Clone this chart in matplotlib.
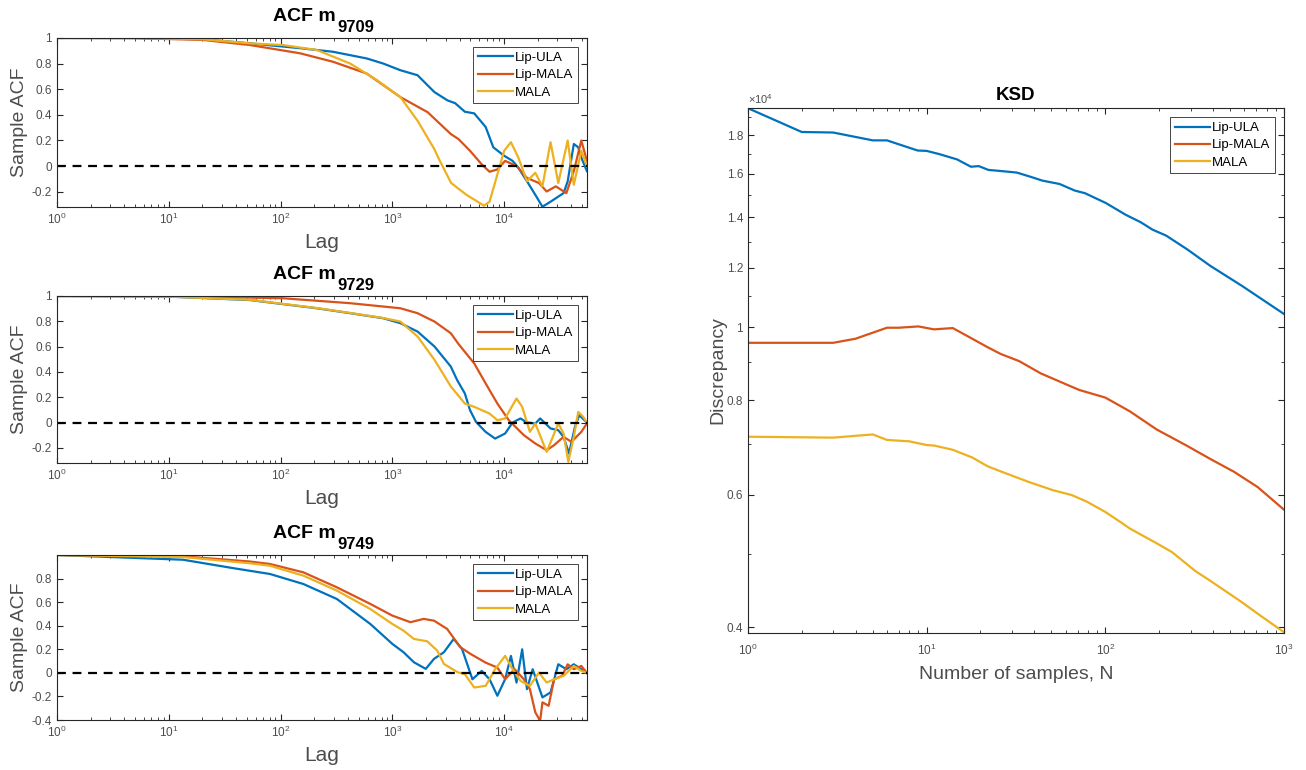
import matplotlib
matplotlib.use("Agg")
import matplotlib.pyplot as plt
from matplotlib.ticker import FixedLocator, NullFormatter, LogLocator

plt.rcParams['font.family'] = ['Liberation Sans', 'DejaVu Sans']
plt.rcParams['mathtext.fontset'] = 'custom'
plt.rcParams['mathtext.rm'] = 'Liberation Sans'
plt.rcParams['mathtext.bf'] = 'Liberation Sans:bold'

# MATLAB default colours
C_ULA = '#0072BD'
C_LMALA = '#D95319'
C_MALA = '#EDB120'
labels = ['Lip-ULA', 'Lip-MALA', 'MALA']

# --- ACF m_9709 ---
m9709_ula_lag = [1, 5, 20, 53, 150, 295, 590, 830, 1180, 1680, 2380, 3120, 3640, 4450, 5400, 6830, 8000, 10000,
                 11900, 13400, 16000, 19000, 22000, 26000, 30500, 34000, 37000, 42000, 46000, 49000, 55000]
m9709_ula = [1, 1, 0.99, 0.958, 0.92, 0.892, 0.84, 0.80, 0.748, 0.709, 0.577, 0.512, 0.491, 0.424, 0.411, 0.305,
             0.146, 0.080, 0.040, -0.013, -0.119, -0.225, -0.318, -0.279, -0.239, -0.212, -0.12, 0.172, 0.146,
             0.066, -0.04]
m9709_lmala_lag = [1, 5, 20, 53, 150, 295, 590, 1180, 2070, 3330, 3910, 4950, 6300, 7400, 8700, 10200, 12900,
                   16000, 20500, 24000, 29000, 36000, 42000, 49000, 55000]
m9709_lmala = [1, 0.998, 0.985, 0.945, 0.88, 0.814, 0.722, 0.538, 0.42, 0.25, 0.21, 0.119, 0.013, -0.045,
               -0.027, 0.04, 0, -0.093, -0.133, -0.199, -0.159, -0.212, -0.04, 0.199, 0.04]
m9709_mala_lag = [1, 5, 20, 53, 105, 211, 420, 730, 1180, 1680, 2380, 2660, 3360, 4600, 5800, 6600, 7400, 8700,
                  10000, 11500, 13400, 16000, 19000, 22000, 26000, 30500, 37000, 42000, 49000, 55000]
m9709_mala = [1, 1, 0.99, 0.958, 0.945, 0.906, 0.80, 0.67, 0.538, 0.354, 0.13, 0.04, -0.133, -0.225, -0.279,
              -0.31, -0.279, -0.066, 0.119, 0.186, 0.066, -0.119, -0.053, -0.159, 0.186, -0.133, 0.199, -0.146,
              0.119, 0]

# --- ACF m_9729 ---
m9729_ula_lag = [1, 10, 53, 211, 420, 830, 1180, 1680, 2380, 3330, 3800, 4450, 4950, 5600, 6830, 8300, 10200,
                 11900, 14000, 16000, 19000, 21000, 26000, 30500, 34000, 38000, 43000, 47000, 55000]
m9729_ula = [1, 0.995, 0.968, 0.903, 0.864, 0.824, 0.785, 0.719, 0.601, 0.443, 0.335, 0.23, 0.098, 0.005,
             -0.074, -0.127, -0.087, 0, 0.032, 0, -0.008, 0.032, -0.047, -0.061, -0.113, -0.245, -0.034, 0.058, 0]
m9729_lmala_lag = [1, 10, 105, 420, 1180, 1680, 2380, 3330, 3910, 5400, 6830, 8700, 11000, 15000, 19000,
                   24000, 28000, 34000, 40000, 49000, 55000]
m9729_lmala = [1, 1, 0.982, 0.943, 0.903, 0.864, 0.798, 0.706, 0.62, 0.467, 0.309, 0.15, 0.018, -0.1, -0.166,
               -0.219, -0.179, -0.113, -0.153, -0.074, -0.008]
m9729_mala_lag = [1, 10, 53, 211, 420, 830, 1180, 1680, 2380, 3330, 4450, 5400, 6300, 7400, 8700, 10200, 12900,
                  14500, 17000, 19000, 24000, 30500, 34000, 37500, 42000, 46000, 51000, 55000]
m9729_mala = [1, 0.995, 0.97, 0.905, 0.866, 0.826, 0.798, 0.68, 0.496, 0.286, 0.15, 0.124, 0.098, 0.071,
              0.018, 0.032, 0.19, 0.124, -0.074, -0.008, -0.232, -0.008, -0.087, -0.311, -0.113, 0.084, 0.045, 0]

# --- ACF m_9749 ---
m9749_ula_lag = [1, 13.4, 37.5, 80.5, 160, 319, 635, 1000, 1260, 1560, 1990, 2360, 2890, 3540, 4200, 5200,
                 6300, 7400, 8700, 10200, 11500, 12900, 14500, 16000, 18000, 22000, 26000, 30500, 36000, 42000,
                 49000, 55000]
m9749_ula = [1, 0.96, 0.889, 0.839, 0.754, 0.627, 0.415, 0.246, 0.175, 0.09, 0.034, 0.119, 0.175, 0.288,
             0.203, -0.054, 0.017, -0.054, -0.194, -0.054, 0.144, -0.082, 0.2, -0.138, 0.031, -0.208, -0.166,
             0.073, 0.031, 0.073, 0.031, 0]
m9749_lmala_lag = [1, 13.4, 53, 80.5, 160, 319, 635, 1000, 1450, 1910, 2360, 3090, 4050, 5000, 6830, 8700,
                   10200, 12400, 15000, 17000, 19000, 21000, 22000, 25000, 28000, 33000, 37000, 42000, 49000,
                   55000]
m9749_lmala = [1, 0.989, 0.945, 0.924, 0.853, 0.726, 0.585, 0.486, 0.43, 0.458, 0.443, 0.373, 0.218, 0.161,
               0.087, 0.045, -0.054, 0.031, -0.054, -0.138, -0.335, -0.406, -0.25, -0.279, -0.054, -0.025,
               0.073, 0.031, 0.059, 0]
m9749_mala_lag = [1, 13.4, 53, 80.5, 160, 319, 635, 1000, 1260, 1560, 2050, 2520, 2890, 3820, 4450, 5400,
                  6830, 8300, 10200, 11900, 14000, 17000, 20500, 24000, 28000, 34000, 42000, 49000, 55000]
m9749_mala = [1, 0.983, 0.93, 0.909, 0.825, 0.698, 0.542, 0.415, 0.358, 0.288, 0.268, 0.189, 0.076, 0.006,
              -0.011, -0.124, -0.11, 0.031, 0.144, 0.031, -0.068, -0.11, 0.003, -0.082, -0.054, -0.025, 0.059,
              0.017, 0]

# --- KSD (values in units of 1e4) ---
ksd_ula_n = [1, 2, 3, 5, 6, 8.9, 10, 11.8, 14.8, 17.7, 19.6, 22.2, 25.1, 32, 39, 44.5, 55.5, 67.6, 77, 101,
             130, 158, 184, 219, 288, 387, 580, 1000]
ksd_ula = [1.954, 1.817, 1.814, 1.771, 1.771, 1.717, 1.715, 1.698, 1.671, 1.634, 1.637, 1.618, 1.614, 1.605,
           1.582, 1.566, 1.550, 1.519, 1.507, 1.462, 1.411, 1.379, 1.348, 1.324, 1.269, 1.207, 1.136, 1.042]
ksd_lmala_n = [1, 3, 4, 6, 7, 9, 11, 14, 18, 22, 26, 33, 43.5, 58.5, 71.5, 100, 137, 194, 288, 387, 527,
               712, 1000]
ksd_lmala = [0.954, 0.954, 0.966, 0.999, 0.999, 1.003, 0.994, 0.998, 0.966, 0.941, 0.922, 0.902, 0.869,
             0.843, 0.826, 0.807, 0.774, 0.732, 0.696, 0.669, 0.643, 0.614, 0.573]
ksd_mala_n = [1, 3, 5, 6, 8, 10, 11, 14, 18, 22, 26, 37, 51, 65, 79, 100, 124, 137, 158, 194, 237, 319, 387,
              450, 580, 712, 1000]
ksd_mala = [0.716, 0.714, 0.721, 0.709, 0.706, 0.698, 0.697, 0.688, 0.672, 0.654, 0.644, 0.624, 0.608,
            0.599, 0.587, 0.569, 0.550, 0.541, 0.531, 0.517, 0.503, 0.475, 0.461, 0.450, 0.432, 0.417, 0.394]

AX_COL = '0.15'
TICK_COL = '0.3'


def style_axes(ax):
    for s in ax.spines.values():
        s.set_color(AX_COL)
        s.set_linewidth(0.8)
    ax.tick_params(which='both', direction='in', top=True, right=True, colors=AX_COL,
                   labelcolor=TICK_COL, labelsize=8.5)
    ax.tick_params(which='major', length=4)
    ax.tick_params(which='minor', length=2.3)


def add_legend(ax):
    leg = ax.legend(labels, loc='upper right', fontsize=9.5, handlelength=2.7, handletextpad=0.1,
                    labelspacing=0.38, borderpad=0.35, fancybox=False, framealpha=1,
                    edgecolor=AX_COL, borderaxespad=0.7)
    leg.get_frame().set_linewidth(0.6)


def acf_title(ax, num):
    ax.annotate('ACF m', xy=(0.527, 1), xycoords='axes fraction', xytext=(0, 12),
                textcoords='offset points', ha='right', va='baseline', fontsize=14, fontweight='bold')
    ax.annotate(num, xy=(0.529, 1), xycoords='axes fraction', xytext=(0, 4.5),
                textcoords='offset points', ha='left', va='baseline', fontsize=12, fontweight='bold')


fig = plt.figure(figsize=(13.06, 7.7), dpi=100)

acf_sets = [
    ('9709', (m9709_ula_lag, m9709_ula), (m9709_lmala_lag, m9709_lmala), (m9709_mala_lag, m9709_mala),
     (-0.32, 1.0), [-0.2, 0, 0.2, 0.4, 0.6, 0.8, 1]),
    ('9729', (m9729_ula_lag, m9729_ula), (m9729_lmala_lag, m9729_lmala), (m9729_mala_lag, m9729_mala),
     (-0.32, 1.0), [-0.2, 0, 0.2, 0.4, 0.6, 0.8, 1]),
    ('9749', (m9749_ula_lag, m9749_ula), (m9749_lmala_lag, m9749_lmala), (m9749_mala_lag, m9749_mala),
     (-0.4, 1.0), [-0.4, -0.2, 0, 0.2, 0.4, 0.6, 0.8]),
]
bottoms = [0.7312, 0.3987, 0.0649]
heights = [0.2195, 0.2169, 0.2143]

for (name, u, lm, m, ylim, yt), b, h in zip(acf_sets, bottoms, heights):
    ax = fig.add_axes([0.0436, b, 0.4058, h])
    ax.plot(u[0], u[1], color=C_ULA, lw=1.6)
    ax.plot(lm[0], lm[1], color=C_LMALA, lw=1.6)
    ax.plot(m[0], m[1], color=C_MALA, lw=1.6)
    ax.set_xscale('log')
    ax.set_xlim(1, 55000)
    ax.set_ylim(*ylim)
    ax.set_yticks(yt)
    ax.set_yticklabels([('%g' % v) for v in yt])
    ax.axhline(0, color='black', ls='--', lw=1.6, dashes=(4, 3))
    ax.xaxis.set_major_locator(LogLocator(base=10, numticks=10))
    ax.xaxis.set_minor_locator(LogLocator(base=10, subs=range(2, 10), numticks=50))
    ax.xaxis.set_minor_formatter(NullFormatter())
    style_axes(ax)
    ax.set_xlabel('Lag', fontsize=15, color=TICK_COL, labelpad=4)
    ax.set_ylabel('Sample ACF', fontsize=14, color=TICK_COL, labelpad=3)
    acf_title(ax, name)
    add_legend(ax)

# KSD plot
ax = fig.add_axes([0.5727, 0.1779, 0.4104, 0.6818])
ax.plot(ksd_ula_n, ksd_ula, color=C_ULA, lw=1.6)
ax.plot(ksd_lmala_n, ksd_lmala, color=C_LMALA, lw=1.6)
ax.plot(ksd_mala_n, ksd_mala, color=C_MALA, lw=1.6)
ax.set_xscale('log')
ax.set_yscale('log')
ax.set_xlim(1, 1000)
ax.set_ylim(0.393, 1.955)
ksd_yt = [0.4, 0.6, 0.8, 1, 1.2, 1.4, 1.6, 1.8]
ax.yaxis.set_major_locator(FixedLocator(ksd_yt))
ax.set_yticklabels([('%g' % v) for v in ksd_yt])
ax.yaxis.set_minor_locator(FixedLocator([0.5, 0.7, 0.9, 1.1, 1.3, 1.5, 1.7, 1.9]))
ax.yaxis.set_minor_formatter(NullFormatter())
ax.xaxis.set_minor_locator(LogLocator(base=10, subs=range(2, 10), numticks=50))
ax.xaxis.set_minor_formatter(NullFormatter())
style_axes(ax)
ax.tick_params(axis='x', which='major', pad=7)
ax.text(0.0, 1.003, '$\\times10^4$', transform=ax.transAxes, fontsize=8, color=TICK_COL,
        ha='left', va='bottom')
ax.set_xlabel('Number of samples, N', fontsize=14, color=TICK_COL, labelpad=6)
ax.set_ylabel('Discrepancy', fontsize=14, color=TICK_COL, labelpad=0)
ax.set_title('KSD', fontsize=13.5, fontweight='bold', pad=6)
add_legend(ax)

fig.savefig('out.png', dpi=100)
